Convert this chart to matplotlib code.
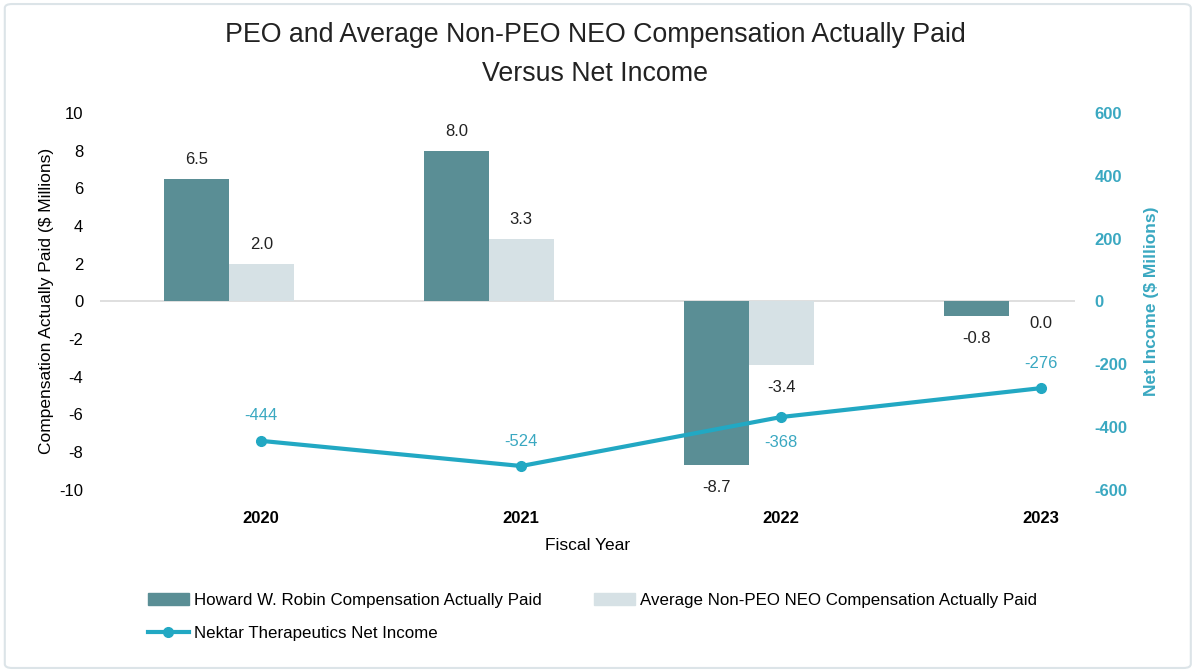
import matplotlib.pyplot as plt
import numpy as np
from matplotlib.patches import FancyBboxPatch
from matplotlib.lines import Line2D
from matplotlib.patches import Patch

plt.rcParams['font.family'] = ['Liberation Sans', 'DejaVu Sans']
plt.rcParams['axes.unicode_minus'] = False

years = ["2020", "2021", "2022", "2023"]
peo_cap = [6.5, 8.0, -8.7, -0.8]
neo_cap = [2.0, 3.3, -3.4, 0.0]
net_income = [-444, -524, -368, -276]
# where the net income label sits relative to the point
ni_label_above = [True, True, False, True]

dark = "#5A8E95"
light = "#D6E1E5"
teal = "#22A8C3"
teal_txt = "#3AA8C1"

fig = plt.figure(figsize=(11.98, 6.72), dpi=100)
fig.patches.append(FancyBboxPatch((0.004, 0.006), 0.99, 0.988, boxstyle="round,pad=0,rounding_size=0.006",
                                  transform=fig.transFigure, fill=False, edgecolor="#DCE4E8", linewidth=1.5))

ax = fig.add_axes([0.0835, 0.271, 0.8139, 0.561])
ax2 = ax.twinx()
x = np.arange(len(years))
w = 0.25

ax.bar(x - w, peo_cap, w, color=dark, zorder=2)
ax.bar(x, neo_cap, w, color=light, zorder=2)
ax.axhline(0, color="#D9D9D9", linewidth=1.2, zorder=1)

for xi, v in zip(x - w, peo_cap):
    off = 14 if v > 0 else -16
    ax.annotate(f"{v:.1f}", (xi, v), xytext=(0, off), textcoords="offset points",
                ha="center", va="center", fontsize=12, color="#222222")
for xi, v in zip(x, neo_cap):
    off = 14 if v > 0 else -16
    ax.annotate(f"{v:.1f}", (xi, v), xytext=(0, off), textcoords="offset points",
                ha="center", va="center", fontsize=12, color="#222222")

ax2.plot(x, net_income, color=teal, linewidth=3, marker="o", markersize=7, zorder=3)
for xi, v, up in zip(x, net_income, ni_label_above):
    ax2.annotate(f"{v}", (xi, v), xytext=(0, 18 if up else -18), textcoords="offset points",
                 ha="center", va="center", fontsize=12, color=teal_txt)

ax.set_xlim(-0.62, 3.13)
ax.set_ylim(-10, 10)
ax.set_yticks(range(-10, 11, 2))
ax2.set_ylim(-600, 600)
ax2.set_yticks(range(-600, 601, 200))
ax.set_xticks(x)
ax.set_xticklabels(years, fontweight="bold", fontsize=12)

for a in (ax, ax2):
    for s in a.spines.values():
        s.set_visible(False)
ax.tick_params(axis="both", length=0, labelsize=12)
ax.tick_params(axis="x", pad=15)
ax.tick_params(axis="y", pad=12)
ax2.tick_params(axis="y", length=0, labelsize=12, pad=14, colors=teal_txt)
for t in ax2.get_yticklabels():
    t.set_fontweight("bold")

ax.set_ylabel("Compensation Actually Paid ($ Millions)", fontsize=12.5, labelpad=4)
ax2.set_ylabel("Net Income ($ Millions)", fontsize=12.5, color=teal_txt, fontweight="bold", labelpad=12)
ax.set_xlabel("Fiscal Year", fontsize=12.5, labelpad=9)

fig.suptitle("PEO and Average Non-PEO NEO Compensation Actually Paid\nVersus Net Income",
             fontsize=19.3, y=0.967, x=0.497, color="#222222", linespacing=1.65)

handles = [Patch(color=dark, label="Howard W. Robin Compensation Actually Paid"),
           Line2D([0], [0], color=teal, linewidth=3, marker="o", markersize=7, label="Nektar Therapeutics Net Income"),
           Patch(color=light, label="Average Non-PEO NEO Compensation Actually Paid")]
fig.legend(handles=handles, ncol=2, loc="upper left", bbox_to_anchor=(0.118, 0.128),
           frameon=False, fontsize=12.2, handlelength=2.4, handletextpad=0.3,
           columnspacing=3.1, labelspacing=1.05, borderaxespad=0)

fig.savefig("out.png", dpi=100)
